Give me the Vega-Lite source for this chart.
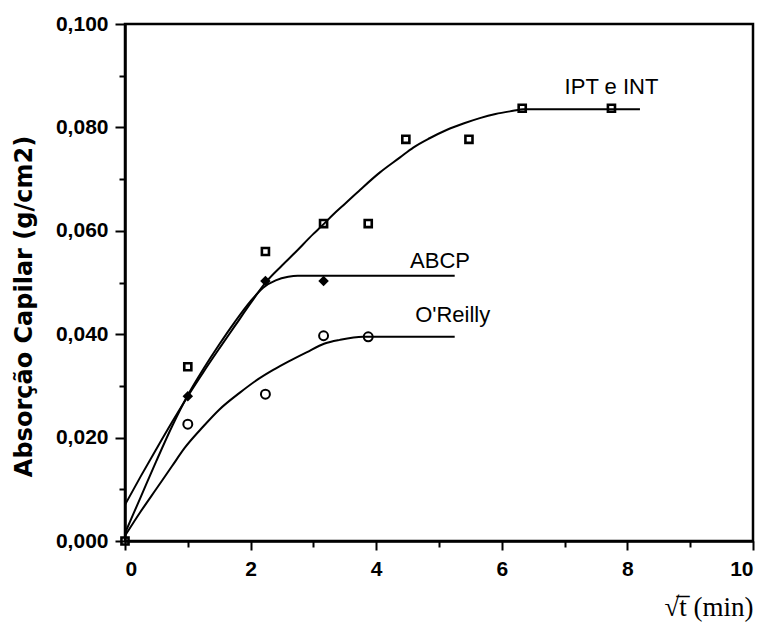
{
  "$schema": "https://vega.github.io/schema/vega-lite/v6.json",
  "width": 628,
  "height": 517,
  "autosize": {"type": "none"},
  "padding": {"left": 125, "top": 24, "right": 12, "bottom": 84},
  "background": "white",
  "config": {
    "view": {"stroke": "black", "strokeWidth": 2.5},
    "axis": {
      "domainColor": "black", "domainWidth": 2.5, "tickColor": "black", "tickWidth": 2,
      "labelFont": "Liberation Sans", "labelFontWeight": "bold", "labelFontSize": 21, "labelColor": "black",
      "grid": false
    }
  },
  "datasets": {
    "curves": [
      {"series": "IPT e INT", "x": 0, "y": 0.0070},
      {"series": "IPT e INT", "x": 0.25, "y": 0.0125},
      {"series": "IPT e INT", "x": 0.5, "y": 0.0178},
      {"series": "IPT e INT", "x": 0.75, "y": 0.0230},
      {"series": "IPT e INT", "x": 1.0, "y": 0.0280},
      {"series": "IPT e INT", "x": 1.25, "y": 0.0327},
      {"series": "IPT e INT", "x": 1.5, "y": 0.0372},
      {"series": "IPT e INT", "x": 1.75, "y": 0.0416},
      {"series": "IPT e INT", "x": 2.0, "y": 0.0460},
      {"series": "IPT e INT", "x": 2.26, "y": 0.0503},
      {"series": "IPT e INT", "x": 2.5, "y": 0.0533},
      {"series": "IPT e INT", "x": 2.71, "y": 0.0558},
      {"series": "IPT e INT", "x": 3.0, "y": 0.0594},
      {"series": "IPT e INT", "x": 3.13, "y": 0.0609},
      {"series": "IPT e INT", "x": 3.32, "y": 0.0632},
      {"series": "IPT e INT", "x": 3.5, "y": 0.0652},
      {"series": "IPT e INT", "x": 3.75, "y": 0.0680},
      {"series": "IPT e INT", "x": 4.06, "y": 0.0713},
      {"series": "IPT e INT", "x": 4.38, "y": 0.0742},
      {"series": "IPT e INT", "x": 4.59, "y": 0.0761},
      {"series": "IPT e INT", "x": 4.85, "y": 0.0779},
      {"series": "IPT e INT", "x": 5.12, "y": 0.0795},
      {"series": "IPT e INT", "x": 5.4, "y": 0.0808},
      {"series": "IPT e INT", "x": 5.65, "y": 0.0818},
      {"series": "IPT e INT", "x": 5.9, "y": 0.0826},
      {"series": "IPT e INT", "x": 6.18, "y": 0.0832},
      {"series": "IPT e INT", "x": 6.34, "y": 0.0835},
      {"series": "IPT e INT", "x": 8.2, "y": 0.0835},
      {"series": "ABCP", "x": 0, "y": 0.0015},
      {"series": "ABCP", "x": 0.25, "y": 0.0085},
      {"series": "ABCP", "x": 0.5, "y": 0.0155},
      {"series": "ABCP", "x": 0.75, "y": 0.0222},
      {"series": "ABCP", "x": 1.0, "y": 0.0282},
      {"series": "ABCP", "x": 1.25, "y": 0.0333},
      {"series": "ABCP", "x": 1.5, "y": 0.0380},
      {"series": "ABCP", "x": 1.75, "y": 0.0424},
      {"series": "ABCP", "x": 2.0, "y": 0.0464},
      {"series": "ABCP", "x": 2.2, "y": 0.0490},
      {"series": "ABCP", "x": 2.4, "y": 0.0504},
      {"series": "ABCP", "x": 2.6, "y": 0.0511},
      {"series": "ABCP", "x": 2.75, "y": 0.0513},
      {"series": "ABCP", "x": 5.25, "y": 0.0513},
      {"series": "O'Reilly", "x": 0, "y": 0.0010},
      {"series": "O'Reilly", "x": 0.25, "y": 0.0057},
      {"series": "O'Reilly", "x": 0.5, "y": 0.0101},
      {"series": "O'Reilly", "x": 0.75, "y": 0.0145},
      {"series": "O'Reilly", "x": 0.95, "y": 0.0180},
      {"series": "O'Reilly", "x": 1.25, "y": 0.0222},
      {"series": "O'Reilly", "x": 1.5, "y": 0.0254},
      {"series": "O'Reilly", "x": 1.83, "y": 0.0287},
      {"series": "O'Reilly", "x": 2.12, "y": 0.0313},
      {"series": "O'Reilly", "x": 2.36, "y": 0.0331},
      {"series": "O'Reilly", "x": 2.6, "y": 0.0347},
      {"series": "O'Reilly", "x": 2.89, "y": 0.0365},
      {"series": "O'Reilly", "x": 3.18, "y": 0.0382},
      {"series": "O'Reilly", "x": 3.42, "y": 0.0389},
      {"series": "O'Reilly", "x": 3.79, "y": 0.0395},
      {"series": "O'Reilly", "x": 5.25, "y": 0.0395}
    ],
    "points": [
      {"series": "IPT e INT", "x": 0, "y": 0},
      {"series": "IPT e INT", "x": 1, "y": 0.0337},
      {"series": "IPT e INT", "x": 2.236, "y": 0.0560},
      {"series": "IPT e INT", "x": 3.162, "y": 0.0614},
      {"series": "IPT e INT", "x": 3.873, "y": 0.0614},
      {"series": "IPT e INT", "x": 4.472, "y": 0.0777},
      {"series": "IPT e INT", "x": 5.477, "y": 0.0777},
      {"series": "IPT e INT", "x": 6.325, "y": 0.0837},
      {"series": "IPT e INT", "x": 7.746, "y": 0.0837},
      {"series": "ABCP", "x": 1, "y": 0.0280},
      {"series": "ABCP", "x": 2.236, "y": 0.0503},
      {"series": "ABCP", "x": 3.162, "y": 0.0503},
      {"series": "O'Reilly", "x": 1, "y": 0.0226},
      {"series": "O'Reilly", "x": 2.236, "y": 0.0284},
      {"series": "O'Reilly", "x": 3.162, "y": 0.0397},
      {"series": "O'Reilly", "x": 3.873, "y": 0.0395}
    ],
    "labels": [
      {"series": "IPT e INT", "x": 7.0, "y": 0.0864},
      {"series": "ABCP", "x": 4.54, "y": 0.0529},
      {"series": "O'Reilly", "x": 4.62, "y": 0.0423}
    ]
  },
  "layer": [
    {
      "data": {"name": "curves"},
      "mark": {"type": "line", "color": "black", "strokeWidth": 2, "interpolate": "monotone"},
      "encoding": {
        "x": {
          "field": "x", "type": "quantitative",
          "scale": {"domain": [0, 10], "nice": false, "zero": false},
          "axis": {
            "values": [0, 1, 2, 3, 4, 5, 6, 7, 8, 9, 10],
            "labelExpr": "datum.value % 2 === 0 ? format(datum.value, 'd') : ''",
            "tickSize": {"condition": {"test": "datum.value % 2 === 0", "value": 9}, "value": 6},
            "labelPadding": 8,
            "title": "√t̅  (min)",
            "titleFont": "Liberation Serif", "titleFontSize": 27, "titleFontWeight": "normal", "titleColor": "black",
            "titleAnchor": "end", "titleBaseline": "alphabetic", "titleY": 74
          }
        },
        "y": {
          "field": "y", "type": "quantitative",
          "scale": {"domain": [0, 0.1], "nice": false, "zero": false},
          "axis": {
            "values": [0, 0.01, 0.02, 0.03, 0.04, 0.05, 0.06, 0.07, 0.08, 0.09, 0.1],
            "labelExpr": "round(datum.value * 100) % 2 === 0 ? replace(format(datum.value, '.3f'), '.', ',') : ''",
            "tickSize": {"condition": {"test": "round(datum.value * 100) % 2 === 0", "value": 10}, "value": 6},
            "labelPadding": 7,
            "title": "Absorção Capilar (g/cm2)",
            "titleFont": "DejaVu Sans", "titleFontSize": 24, "titleFontWeight": "bold", "titleColor": "black",
            "titleX": -101, "titleY": 282, "titleBaseline": "middle", "titleAlign": "center", "titleAngle": 270
          }
        },
        "detail": {"field": "series"}
      }
    },
    {
      "data": {"name": "points"},
      "transform": [{"filter": "datum.series === 'IPT e INT'"}],
      "mark": {"type": "point", "shape": "square", "filled": false, "color": "black", "strokeWidth": 2.6, "size": 50, "opacity": 1},
      "encoding": {
        "x": {"field": "x", "type": "quantitative"},
        "y": {"field": "y", "type": "quantitative"}
      }
    },
    {
      "data": {"name": "points"},
      "transform": [{"filter": "datum.series === 'ABCP'"}],
      "mark": {"type": "point", "shape": "diamond", "filled": true, "color": "black", "size": 110, "opacity": 1},
      "encoding": {
        "x": {"field": "x", "type": "quantitative"},
        "y": {"field": "y", "type": "quantitative"}
      }
    },
    {
      "data": {"name": "points"},
      "transform": [{"filter": "datum.series === \"O'Reilly\""}],
      "mark": {"type": "point", "shape": "circle", "filled": false, "color": "black", "strokeWidth": 2, "size": 80, "opacity": 1},
      "encoding": {
        "x": {"field": "x", "type": "quantitative"},
        "y": {"field": "y", "type": "quantitative"}
      }
    },
    {
      "data": {"name": "labels"},
      "mark": {"type": "text", "align": "left", "baseline": "alphabetic", "font": "Liberation Sans", "fontSize": 22, "color": "black"},
      "encoding": {
        "x": {"field": "x", "type": "quantitative"},
        "y": {"field": "y", "type": "quantitative"},
        "text": {"field": "series"}
      }
    }
  ]
}
